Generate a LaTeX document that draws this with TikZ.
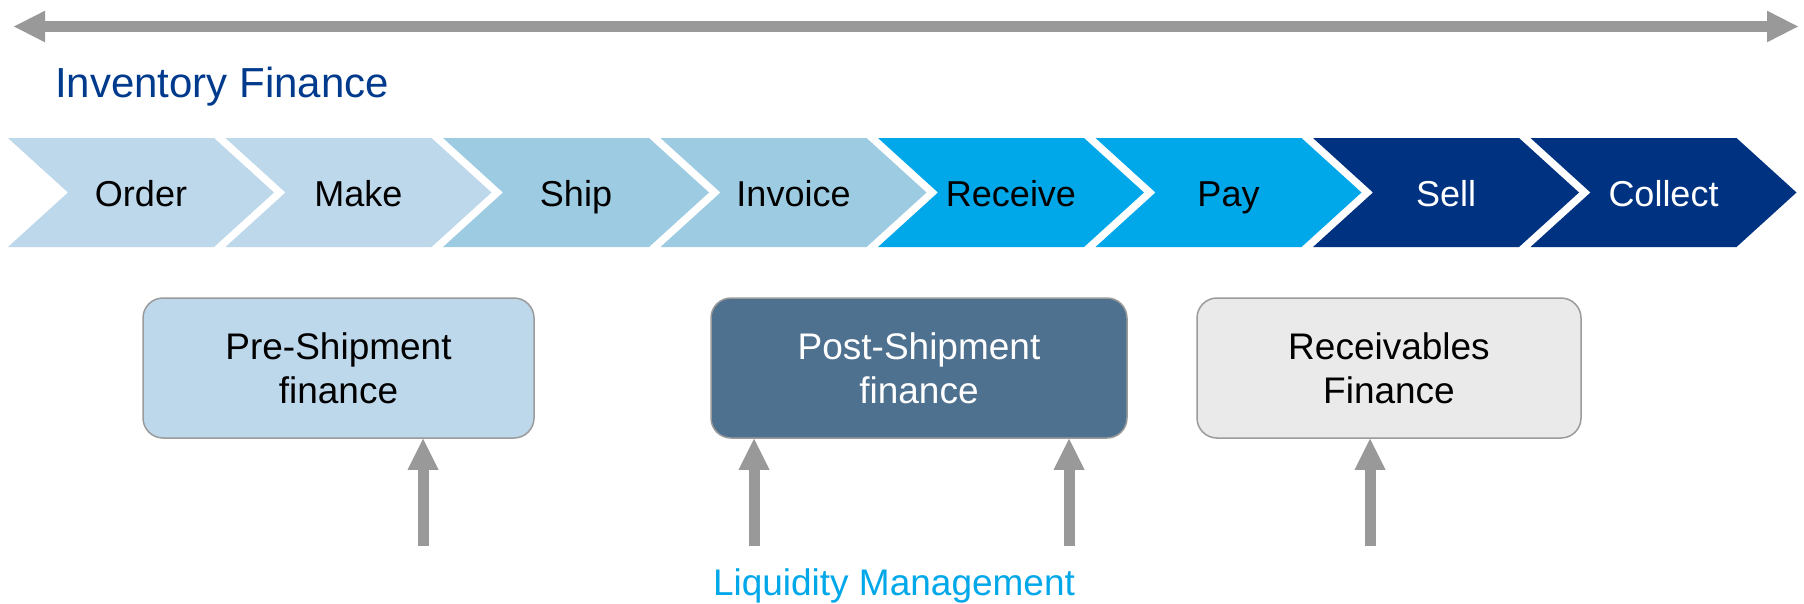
\documentclass[tikz,border=0pt]{standalone}
\usepackage{fontspec}
\setmainfont{Liberation Sans}
\usetikzlibrary{arrows.meta}
\definecolor{lbA}{HTML}{BDD7EB}
\definecolor{lbB}{HTML}{9DCBE1}
\definecolor{cyA}{HTML}{00A8E9}
\definecolor{nvA}{HTML}{003282}
\definecolor{stbA}{HTML}{4F7190}
\definecolor{lgA}{HTML}{EAEAEA}
\definecolor{arA}{HTML}{999999}
\definecolor{bdA}{HTML}{9B9B9B}
\definecolor{tnavA}{HTML}{003A8C}
\begin{document}
\begin{tikzpicture}[x=1pt,y=-1pt,
  chevtext/.style={font=\fontsize{36}{43}\selectfont, anchor=base, inner sep=0pt},
  finbox/.style={draw=bdA, line width=1.5pt, rounded corners=20pt, minimum height=140pt,
    align=center, font=\fontsize{37}{44}\selectfont, inner sep=0pt},
  uparrow/.style={draw=arA, line width=11pt, -{Triangle[length=31pt,width=31pt,line width=0pt]}},
  toparrow/.style={draw=arA, line width=10.5pt,
    {Triangle[length=31pt,width=31.6pt,line width=0pt]}-{Triangle[length=31pt,width=31.6pt,line width=0pt]}},
]
\useasboundingbox (0,0) rectangle (1804,603);
\fill[white] (0,0) rectangle (1804,603);

% top timeline arrow
\coordinate (tl) at (14,26.5);
\coordinate (tr) at (1798,26.5);
\draw[toparrow] (tl) -- (tr);

\node[anchor=base west, inner sep=0pt, text=tnavA, font=\fontsize{42}{50}\selectfont] (inv) at (55,97) {Inventory Finance};

% chevrons
\foreach \i/\t/\c/\tc in {0/Order/lbA/black, 1/Make/lbA/black, 2/Ship/lbB/black, 3/Invoice/lbB/black,
  4/Receive/cyA/black, 5/Pay/cyA/black, 6/Sell/nvA/white, 7/Collect/nvA/white}{
  \pgfmathsetmacro\L{8+217.5*\i}
  \fill[\c] (\L,138) -- ++(206,0) -- ++(60,54.5) -- ++(-60,54.5) -- ++(-206,0) -- ++(60,-54.5) -- cycle;
  \node[chevtext, text=\tc] (ch\i) at ({\L+133},206) {\t};
}

% finance boxes
\node[finbox, fill=lbA, text=black, minimum width=391pt] (pre) at (338.5,368) {Pre-Shipment\\finance};
\node[finbox, fill=stbA, text=white, minimum width=416pt] (post) at (919,368) {Post-Shipment\\finance};
\node[finbox, fill=lgA, text=black, minimum width=384pt] (rec) at (1389,368) {Receivables\\Finance};

% arrows
\coordinate (a1) at (423,546);
\coordinate (a2) at (754,546);
\coordinate (a3) at (1069,546);
\coordinate (a4) at (1370,546);
\draw[uparrow] (a1) -- (a1 |- pre.south);
\draw[uparrow] (a2) -- (a2 |- post.south);
\draw[uparrow] (a3) -- (a3 |- post.south);
\draw[uparrow] (a4) -- (a4 |- rec.south);

\node[anchor=base, inner sep=0pt, text=cyA, font=\fontsize{37}{44}\selectfont] (liq) at (894,595) {Liquidity Management};
\end{tikzpicture}
\end{document}
